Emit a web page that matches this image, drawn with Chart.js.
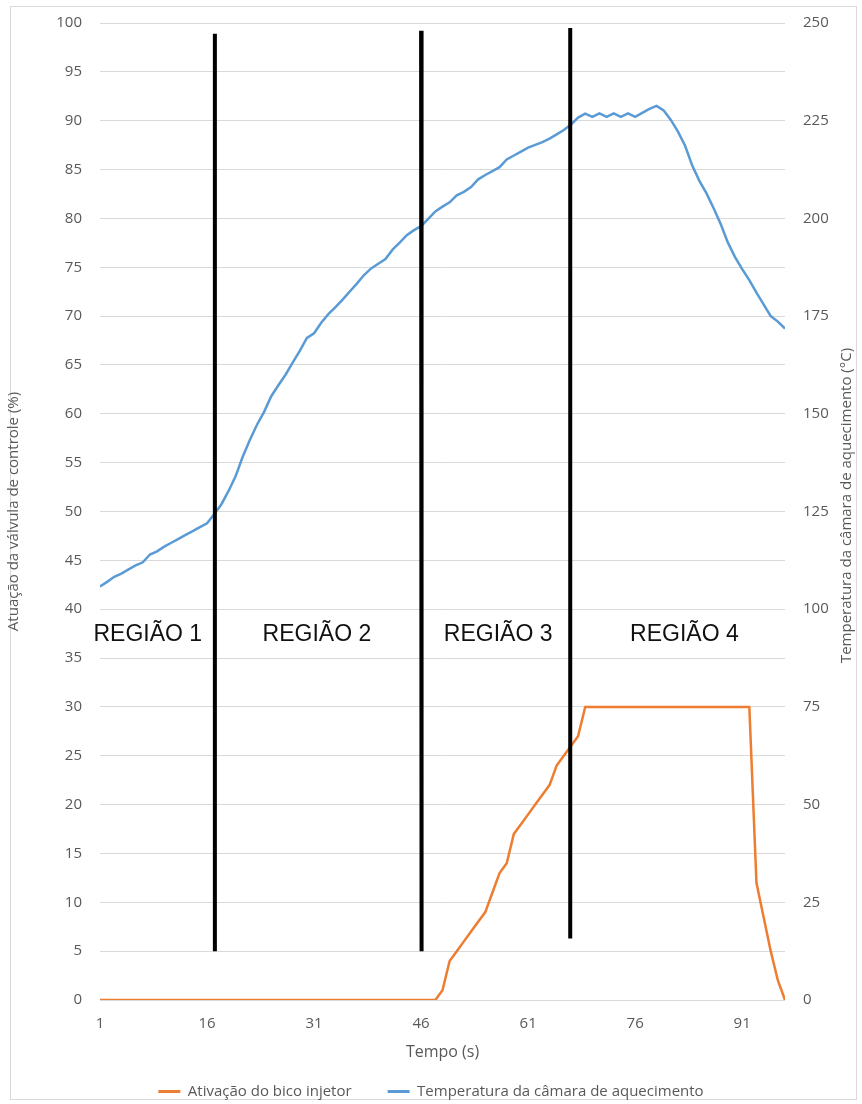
<!DOCTYPE html>
<html>
<head>
<meta charset="utf-8">
<script src="https://cdn.jsdelivr.net/npm/chart.js@4.4.1/dist/chart.umd.min.js"></script>
<style>
html, body { margin: 0; padding: 0; background: #fff; }
canvas { display: block; }
</style>
</head>
<body>
<canvas id="grafico" width="862" height="1104"></canvas>
<script>
// tempo (s)
var tempo = [1,2,3,4,5,6,7,8,9,10,11,12,13,14,15,16,17,18,19,20,
	21,22,23,24,25,26,27,28,29,30,31,32,33,34,35,36,37,38,39,40,
	41,42,43,44,45,46,47,48,49,50,51,52,53,54,55,56,57,58,59,60,
	61,62,63,64,65,66,67,68,69,70,71,72,73,74,75,76,77,78,79,80,
	81,82,83,84,85,86,87,88,89,90,91,92,93,94,95,96,97];

// Ativação do bico injetor (%)
var bicoInjetor = [0,0,0,0,0,0,0,0,0,0,0,0,0,0,0,0,0,0,0,0,
	0,0,0,0,0,0,0,0,0,0,0,0,0,0,0,0,0,0,0,0,
	0,0,0,0,0,0,0,0,1,4,5,6,7,8,9,11,13,14,17,18,
	19,20,21,22,24,25,26,27,30,30,30,30,30,30,30,30,30,30,30,30,
	30,30,30,30,30,30,30,30,30,30,30,30,12,8.5,5,2,0];

// Temperatura da câmara de aquecimento (°C)
var temperatura = [105.8,107.0,108.3,109.1,110.2,111.2,112.0,114.0,114.8,116.0,
	117.0,118.0,119.0,120.0,121.0,122.0,124.3,126.8,130.2,134.0,
	139.0,143.3,147.2,150.5,154.5,157.3,160.0,163.1,166.1,169.4,
	170.6,173.3,175.5,177.3,179.2,181.3,183.3,185.5,187.2,188.4,
	189.6,192.0,193.8,195.7,197.0,198.0,199.9,201.8,203.0,204.1,
	205.9,206.8,208.0,210.0,211.1,212.1,213.1,215.1,216.1,217.1,
	218.1,218.8,219.5,220.4,221.5,222.6,224.0,225.8,226.8,226.0,
	226.9,226.0,226.9,226.0,226.9,226.0,227.0,228.0,228.8,227.6,
	225.2,222.2,218.6,213.5,209.6,206.4,202.6,198.5,193.8,190.1,
	187.0,184.2,181.0,178.0,175.0,173.6,171.8];

var ticksTempo = [1, 16, 31, 46, 61, 76, 91];

// divisões entre regiões (tempo, % da válvula)
var divisao1 = [[17.1, 98.9], [17.1, 5.0]];
var divisao2 = [[46.0, 99.2], [46.0, 52.2], [46.1, 52.2], [46.1, 5.0]];
var divisao3 = [[66.9, 99.5], [66.9, 6.3]];

var regioes = ["REGIÃO 1", "REGIÃO 2", "REGIÃO 3", "REGIÃO 4"];
var regioesTempo = [7.7, 31.4, 56.8, 82.9];
var regioesNivel = 37.4;

var tituloDireito = "Temperatura da câmara de aquecimento (°C)";

function pontos(xs, ys) {
	return xs.map(function(x, i) { return { x: x, y: ys[i] }; });
}
function segmento(par) {
	return par.map(function(p) { return { x: p[0], y: p[1] }; });
}
function divisao(par) {
	return {
		label: "divisao",
		data: segmento(par),
		yAxisID: "y",
		borderColor: "#000000",
		borderWidth: 4,
		pointRadius: 0,
		order: 0
	};
}
// sem folga extra acima/abaixo dos rótulos do eixo y
function larguraEixo(w) {
	return function(s) {
		s.width = w;
		s.paddingTop = 0;
		s.paddingBottom = 0;
	};
}

Chart.defaults.font.family = "'Open Sans', sans-serif";
Chart.defaults.color = "#595959";

var extras = {
	id: "extras",
	beforeDraw: function(chart) {
		var ctx = chart.ctx;
		ctx.save();
		ctx.fillStyle = "#ffffff";
		ctx.fillRect(0, 0, chart.width, chart.height);
		ctx.strokeStyle = "#d9d9d9";
		ctx.lineWidth = 1;
		ctx.strokeRect(10.5, 6.5, 846, 1093);
		ctx.restore();
	},
	afterDraw: function(chart) {
		var ctx = chart.ctx;
		var sx = chart.scales.x, sy = chart.scales.y, sy2 = chart.scales.y2;
		ctx.save();
		ctx.fillStyle = "#111111";
		ctx.font = "23px 'Liberation Sans', Arial, sans-serif";
		ctx.textAlign = "center";
		ctx.textBaseline = "middle";
		regioes.forEach(function(r, i) {
			ctx.fillText(r, sx.getPixelForValue(regioesTempo[i]), sy.getPixelForValue(regioesNivel));
		});
		// título do eixo direito, lido de baixo para cima
		ctx.fillStyle = "#595959";
		ctx.font = "15px 'Open Sans', sans-serif";
		ctx.translate(sy2.right - 15, (sy2.top + sy2.bottom) / 2 - 6);
		ctx.rotate(-Math.PI / 2);
		ctx.fillText(tituloDireito, 0, 0);
		ctx.restore();
	}
};

new Chart(document.getElementById("grafico"), {
	type: "line",
	data: {
		datasets: [
			{
				label: "Ativação do bico injetor",
				data: pontos(tempo, bicoInjetor),
				yAxisID: "y",
				borderColor: "#ed7d31",
				backgroundColor: "#ed7d31",
				borderWidth: 2.5,
				pointRadius: 0,
				order: 1
			},
			{
				label: "Temperatura da câmara de aquecimento",
				data: pontos(tempo, temperatura),
				yAxisID: "y2",
				borderColor: "#5b9bd5",
				backgroundColor: "#5b9bd5",
				borderWidth: 2.5,
				pointRadius: 0,
				order: 1
			},
			divisao(divisao1),
			divisao(divisao2),
			divisao(divisao3)
		]
	},
	options: {
		responsive: false,
		animation: false,
		devicePixelRatio: 1,
		layout: { padding: { top: 23, left: 0, right: 0, bottom: -5 } },
		plugins: {
			tooltip: { enabled: false },
			legend: {
				position: "bottom",
				labels: {
					font: { size: 15 },
					color: "#595959",
					boxWidth: 22,
					boxHeight: 3,
					padding: 36,
					filter: function(item) { return item.datasetIndex < 2; },
					generateLabels: function(chart) {
						var itens = Chart.defaults.plugins.legend.labels.generateLabels(chart);
						itens.forEach(function(it) { it.lineWidth = 0; });
						return itens;
					}
				}
			}
		},
		scales: {
			x: {
				type: "linear",
				min: 1,
				max: 97,
				grid: { display: false },
				border: { display: false },
				afterBuildTicks: function(s) {
					s.ticks = ticksTempo.map(function(v) { return { value: v }; });
				},
				afterFit: function(s) {
					var lg = s.chart.legend;
					s.height = 109 - (lg ? lg.height : 0);
				},
				ticks: { font: { size: 15 }, padding: 7, maxRotation: 0, autoSkip: false },
				title: { display: true, text: "Tempo (s)", font: { size: 16 }, padding: { top: 0, bottom: -14 } }
			},
			y: {
				position: "left",
				min: 0,
				max: 100,
				grid: { color: "#d9d9d9", drawTicks: false },
				border: { display: false },
				ticks: { stepSize: 5, font: { size: 15 }, padding: 18 },
				afterFit: larguraEixo(100),
				title: { display: true, text: "Atuação da válvula de controle (%)", font: { size: 15 }, padding: { top: 5 } }
			},
			y2: {
				position: "right",
				min: 0,
				max: 250,
				grid: { display: false, drawTicks: false },
				border: { display: false },
				ticks: { stepSize: 25, font: { size: 15 }, padding: 18 },
				afterFit: larguraEixo(77)
			}
		}
	},
	plugins: [extras]
});
</script>
</body>
</html>
